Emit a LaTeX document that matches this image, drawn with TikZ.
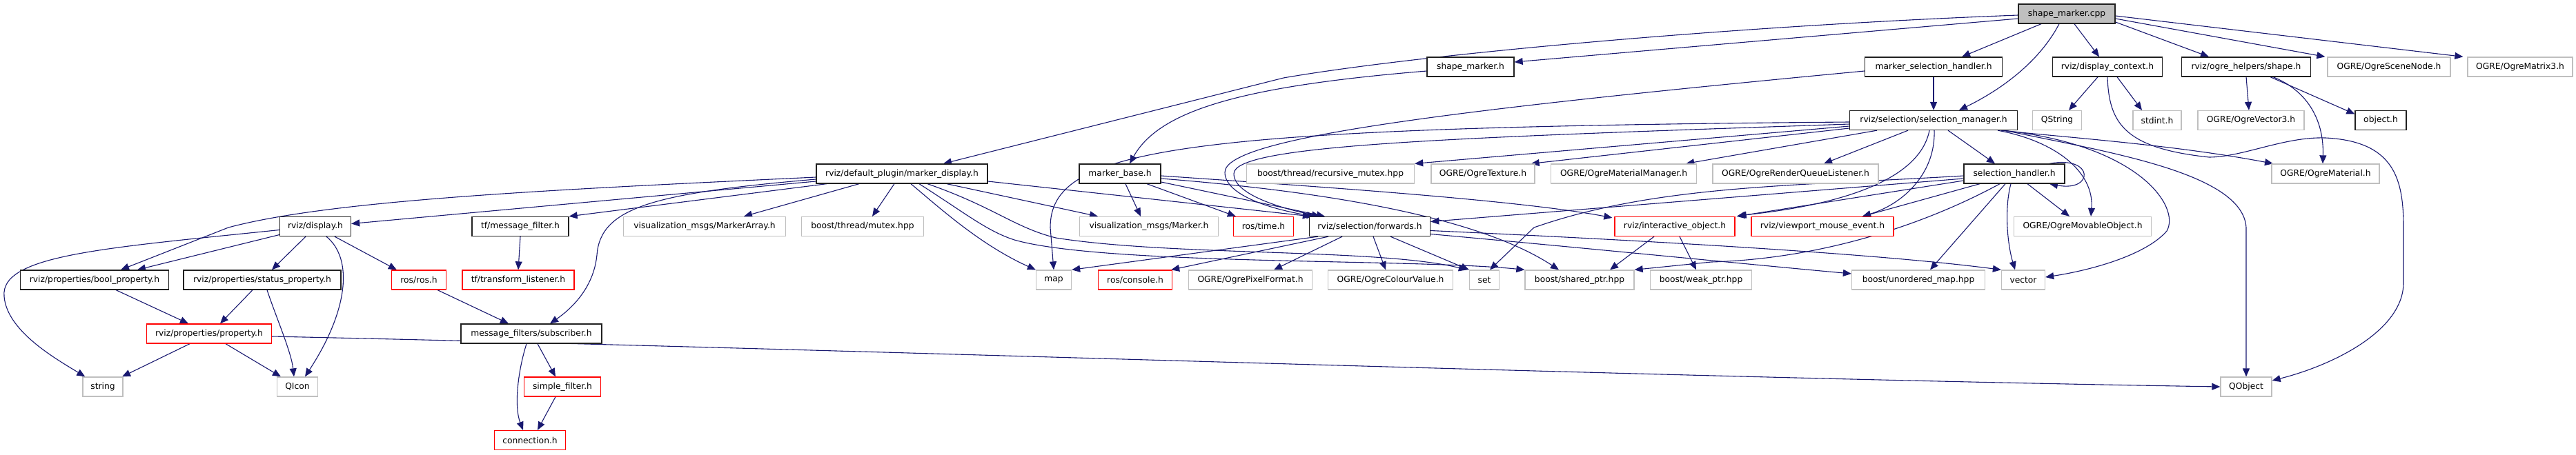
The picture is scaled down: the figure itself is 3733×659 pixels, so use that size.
\documentclass[tikz,border=0pt]{standalone}
\usepackage{fontspec}
\setmainfont{DejaVu Sans}
\usetikzlibrary{arrows.meta}
\definecolor{edgec}{HTML}{191970}
\definecolor{grayc}{HTML}{BFBFBF}
\definecolor{redc}{HTML}{FF0000}
\definecolor{boxc}{HTML}{202020}
\pgfdeclarelayer{bg}
\pgfsetlayers{bg,main}
\tikzset{
  bx/.style={draw=boxc, line width=1.3pt, minimum height=28pt, inner sep=0pt, fill=white, font=\fontsize{12.3}{14}\selectfont},
  gbx/.style={bx, draw=grayc},
  rbx/.style={bx, draw=redc},
  rootbx/.style={bx, fill=grayc},
  ed/.style={draw=edgec, line width=1.1pt, -{Triangle[length=12pt,width=10pt]}},
}
\begin{document}
\begin{tikzpicture}[x=1pt,y=-1pt]
\useasboundingbox (0,0) rectangle (3733,659);
% row 0
\node[rootbx, minimum width=140] (cpp) at (2995,20) {shape\_marker.cpp};
% row 1
\node[bx, minimum width=126] (smh) at (2131,97) {shape\_marker.h};
\node[bx, minimum width=199] (msh) at (2802,97) {marker\_selection\_handler.h};
\node[bx, minimum width=159] (dctx) at (3054,97) {rviz/display\_context.h};
\node[bx, minimum width=187] (shape) at (3255,97) {rviz/ogre\_helpers/shape.h};
\node[gbx, minimum width=178] (scn) at (3462,97) {OGRE/OgreSceneNode.h};
\node[gbx, minimum width=152] (mat3) at (3652,97) {OGRE/OgreMatrix3.h};
% row 2
\node[bx, minimum width=243] (selm) at (2802,174.5) {rviz/selection/selection\_manager.h};
\node[gbx, minimum width=71] (qstr) at (2981,174.5) {QString};
\node[gbx, minimum width=70] (stdint) at (3126,174.5) {stdint.h};
\node[gbx, minimum width=154] (vec3) at (3262,174.5) {OGRE/OgreVector3.h};
\node[bx, minimum width=74] (obj) at (3450,174.5) {object.h};
% row 3
\node[bx, minimum width=248] (mdisp) at (1307,252) {rviz/default\_plugin/marker\_display.h};
\node[bx, minimum width=118] (mbase) at (1623,252) {marker\_base.h};
\node[gbx, minimum width=243] (rmutex) at (1928,252) {boost/thread/recursive\_mutex.hpp};
\node[gbx, minimum width=150] (tex) at (2149,252) {OGRE/OgreTexture.h};
\node[gbx, minimum width=211] (matmgr) at (2353,252) {OGRE/OgreMaterialManager.h};
\node[gbx, minimum width=240] (rql) at (2602,252) {OGRE/OgreRenderQueueListener.h};
\node[bx, minimum width=146] (selh) at (2919,252) {selection\_handler.h};
\node[gbx, minimum width=156] (mat) at (3370,252) {OGRE/OgreMaterial.h};
% row 4
\node[bx, minimum width=103] (disp) at (457,328.5) {rviz/display.h};
\node[bx, minimum width=140] (tfmf) at (754,328.5) {tf/message\_filter.h};
\node[gbx, minimum width=235] (marr) at (1021,328.5) {visualization\_msgs/MarkerArray.h};
\node[gbx, minimum width=177] (mutex) at (1250,328.5) {boost/thread/mutex.hpp};
\node[gbx, minimum width=201] (marker) at (1665,328.5) {visualization\_msgs/Marker.h};
\node[rbx, minimum width=87] (rtime) at (1831,328.5) {ros/time.h};
\node[bx, minimum width=175] (fwd) at (1985,328.5) {rviz/selection/forwards.h};
\node[rbx, minimum width=174] (iobj) at (2427,328.5) {rviz/interactive\_object.h};
\node[rbx, minimum width=206] (vme) at (2641,328.5) {rviz/viewport\_mouse\_event.h};
\node[gbx, minimum width=199] (movo) at (3018,328.5) {OGRE/OgreMovableObject.h};
% row 5
\node[bx, minimum width=215] (boolp) at (137,406) {rviz/properties/bool\_property.h};
\node[bx, minimum width=228] (statp) at (380,406) {rviz/properties/status\_property.h};
\node[rbx, minimum width=79] (ros) at (607,406) {ros/ros.h};
\node[rbx, minimum width=162] (tftl) at (751,406) {tf/transform\_listener.h};
\node[gbx, minimum width=51] (map) at (1527,406) {map};
\node[rbx, minimum width=107] (cons) at (1645,406) {ros/console.h};
\node[gbx, minimum width=179] (pix) at (1812,406) {OGRE/OgrePixelFormat.h};
\node[gbx, minimum width=181] (col) at (2015,406) {OGRE/OgreColourValue.h};
\node[gbx, minimum width=43] (set) at (2151,406) {set};
\node[gbx, minimum width=158] (sptr) at (2289,406) {boost/shared\_ptr.hpp};
\node[gbx, minimum width=147] (wptr) at (2465,406) {boost/weak\_ptr.hpp};
\node[gbx, minimum width=193] (umap) at (2780,406) {boost/unordered\_map.hpp};
\node[gbx, minimum width=63] (vec) at (2932,406) {vector};
% row 6
\node[rbx, minimum width=181] (prop) at (303,484) {rviz/properties/property.h};
\node[bx, minimum width=204] (sub) at (770,484) {message\_filters/subscriber.h};
% row 7
\node[gbx, minimum width=58] (str) at (149,561) {string};
\node[gbx, minimum width=59] (qicon) at (431,561) {QIcon};
\node[rbx, minimum width=111] (sfilt) at (815,561) {simple\_filter.h};
\node[gbx, minimum width=74] (qobj) at (3255,561) {QObject};
% row 8
\node[rbx, minimum width=103] (conn) at (768,638.5) {connection.h};

\begin{pgfonlayer}{bg}
% shape_marker.cpp
\draw[ed] ([yshift=-7pt]cpp.west) -- ([yshift=7pt]smh.east);
\draw[ed] ([yshift=-2pt]cpp.west) .. controls (2500,38) and (2050,80) .. (1860,113) -- ([xshift=60pt]mdisp.north);
\draw[ed] ([xshift=-37pt]cpp.south) -- ([xshift=41pt]msh.north);
\draw[ed] ([xshift=-11pt]cpp.south) .. controls (2955,90) and (2900,130) .. ([xshift=37pt]selm.north);
\draw[ed] ([xshift=11pt]cpp.south) -- ([xshift=-12pt]dctx.north);
\draw[ed] ([yshift=-12pt]cpp.east) -- ([xshift=-54pt]shape.north);
\draw[ed] ([yshift=-7pt]cpp.east) -- ([xshift=-3pt]scn.north west);
\draw[ed] ([yshift=-3pt]cpp.east) -- ([xshift=-6pt]mat3.north west);
% shape_marker.h
\draw[ed] ([yshift=-6pt]smh.west) .. controls (1800,125) and (1680,160) .. ([xshift=14pt]mbase.north);
% marker_selection_handler.h
\draw[ed] (msh.south) -- (selm.north);
\draw[ed] ([yshift=-6pt]msh.west) .. controls (2100,160) and (1775,200) .. (1775,250) .. controls (1775,285) and (1850,305) .. ([xshift=9pt]fwd.north west);
% selection_manager.h
\draw[ed] ([yshift=-5.5pt]selm.west) .. controls (2100,200) and (1788,210) .. (1788,252) .. controls (1788,285) and (1870,305) .. ([xshift=16pt]fwd.north west);
\draw[ed] ([yshift=-2.5pt]selm.west) .. controls (1700,185) and (1522,215) .. (1522,330) -- (map.north);
\draw[ed] ([yshift=-8.5pt]selm.west) -- (rmutex.north east);
\draw[ed] ([yshift=-11.5pt]selm.west) -- ([xshift=-6pt]tex.north east);
\draw[ed] ([xshift=-82pt]selm.south) -- ([xshift=-16pt]matmgr.north east);
\draw[ed] ([xshift=-37pt]selm.south) -- ([xshift=41pt]rql.north);
\draw[ed] ([xshift=21pt]selm.south) -- ([xshift=-28pt]selh.north);
\draw[ed] ([xshift=-6pt]selm.south) .. controls (2780,270) and (2640,300) .. ([xshift=4pt,yshift=1pt]iobj.north east);
\draw[ed] ([xshift=1pt]selm.south) .. controls (2805,250) and (2760,295) .. ([xshift=58pt]vme.north);
\draw[ed] ([xshift=93pt]selm.south) .. controls (2980,205) and (3035,250) .. ([xshift=12pt]movo.north);
\draw[ed] ([xshift=98pt]selm.south) .. controls (3000,200) and (3150,210) .. ([xshift=-76pt]mat.north);
\draw[ed] ([xshift=103pt]selm.south) .. controls (3050,220) and (3250,250) .. (3255,330) -- (qobj.north);
\draw[ed] ([xshift=100pt]selm.south) .. controls (3100,210) and (3160,300) .. (3140,335) .. controls (3110,370) and (3030,392) .. ([yshift=4pt]vec.east);
% forwards.h
\draw[ed] ([xshift=-75pt]fwd.south) -- (map.north east);
\draw[ed] ([xshift=-60pt]fwd.south) -- ([xshift=-2pt]cons.north east);
\draw[ed] ([xshift=-40pt]fwd.south) -- ([xshift=34pt]pix.north);
\draw[ed] ([xshift=5pt]fwd.south) -- ([xshift=-7pt]col.north);
\draw[ed] ([xshift=30pt]fwd.south) -- (set.north west);
\draw[ed] ([yshift=-6pt]fwd.east) .. controls (2300,345) and (2700,365) .. (vec.north west);
\draw[ed] ([yshift=-11pt]fwd.east) .. controls (2300,360) and (2550,385) .. ([yshift=9pt]umap.west);
% marker_base.h
\draw[ed] ([xshift=8pt]mbase.south) -- ([xshift=-12pt]marker.north);
\draw[ed] ([xshift=39pt]mbase.south) -- ([xshift=4pt]rtime.north west);
\draw[ed] ([yshift=-12pt]mbase.east) -- ([xshift=23pt]fwd.north west);
\draw[ed] ([yshift=-3pt]mbase.east) .. controls (1900,270) and (2200,290) .. ([xshift=-3pt,yshift=-2pt]iobj.north west);
\draw[ed] ([yshift=-7pt]mbase.east) .. controls (1950,280) and (2150,320) .. ([xshift=-30pt]sptr.north);
% marker_display.h
\draw[ed] ([yshift=-5pt]mdisp.west) .. controls (800,275) and (480,290) .. (331,330) -- ([xshift=38pt]boolp.north);
\draw[ed] ([yshift=-11pt]mdisp.west) -- ([yshift=4pt]disp.east);
\draw[ed] ([xshift=-109pt]mdisp.south) -- (tfmf.north east);
\draw[ed] ([yshift=-8pt]mdisp.west) .. controls (950,280) and (870,300) .. (865,370) .. controls (860,420) and (825,450) .. ([xshift=27pt]sub.north);
\draw[ed] ([xshift=-62pt]mdisp.south) -- ([xshift=57pt]marr.north);
\draw[ed] ([xshift=-11pt]mdisp.south) -- ([xshift=14pt]mutex.north);
\draw[ed] ([xshift=13pt]mdisp.south) .. controls (1360,300) and (1420,355) .. (map.north west);
\draw[ed] ([xshift=25pt]mdisp.south) .. controls (1400,310) and (1430,335) .. (1470,348) .. controls (1600,385) and (2050,375) .. (sptr.north west);
\draw[ed] ([xshift=37pt]mdisp.south) .. controls (1440,300) and (1470,330) .. (1530,345) .. controls (1700,372) and (2000,360) .. ([xshift=-3pt]set.north west);
\draw[ed] ([xshift=65pt]mdisp.south) -- ([xshift=-74pt]marker.north);
\draw[ed] ([yshift=-11pt]mdisp.east) -- ([xshift=3pt]fwd.north west);
% selection_handler.h
\draw[ed] ([xshift=51pt]selh.north) .. controls (3035,225) and (3035,279) .. ([xshift=51pt]selh.south);
\draw[ed] ([xshift=19pt]selh.south) -- ([xshift=-19pt]movo.north);
\draw[ed] ([xshift=-13pt]selh.south) -- ([xshift=17pt]umap.north);
\draw[ed] ([xshift=-5pt]selh.south) .. controls (2905,300) and (2908,350) .. ([xshift=-12pt]vec.north);
\draw[ed] ([xshift=-21pt]selh.south) .. controls (2800,320) and (2650,375) .. (2480,380) -- (sptr.north east);
\draw[ed] ([yshift=-7pt]selh.west) -- ([yshift=7pt]fwd.east);
\draw[ed] ([yshift=-3pt]selh.west) .. controls (2600,270) and (2400,268) .. (2223,330) -- ([xshift=8pt]set.north);
\draw[ed] ([xshift=-50pt]selh.south) -- ([xshift=58pt]vme.north);
\draw[ed] ([yshift=-10pt]selh.west) -- ([xshift=2pt]iobj.north east);
% display.h
\draw[ed] ([yshift=-5pt]disp.west) .. controls (150,360) and (0,370) .. (6,430) .. controls (10,480) and (80,520) .. ([xshift=4pt]str.north west);
\draw[ed] ([yshift=-12pt]disp.west) -- ([xshift=62pt]boolp.north);
\draw[ed] ([xshift=-14pt]disp.south) -- ([xshift=14pt]statp.north);
\draw[ed] ([xshift=16pt]disp.south) .. controls (512,375) and (505,450) .. ([xshift=11pt]qicon.north);
\draw[ed] ([xshift=28pt]disp.south) -- ([xshift=8pt]ros.north west);
% properties
\draw[ed] ([xshift=31pt]boolp.south) -- ([xshift=-30pt]prop.north);
\draw[ed] ([xshift=-14pt]statp.south) -- ([xshift=16pt]prop.north);
\draw[ed] ([xshift=7pt]statp.south) .. controls (400,460) and (422,510) .. ([xshift=-5pt]qicon.north);
\draw[ed] ([xshift=-28pt]prop.south) -- ([xshift=28pt]str.north);
\draw[ed] ([xshift=24pt]prop.south) -- ([xshift=-24pt]qicon.north);
\draw[ed] ([yshift=-4pt]prop.east) .. controls (1200,505) and (2400,548) .. (qobj.west);
% ros / tf / message filters
\draw[ed] ([xshift=27pt]ros.south) -- ([xshift=-33pt]sub.north);
\draw[ed] (tfmf.south) -- (tftl.north);
\draw[ed] ([xshift=9pt]sub.south) -- ([xshift=-10pt]sfilt.north);
\draw[ed] ([xshift=-7pt]sub.south) .. controls (750,540) and (745,590) .. ([xshift=-10pt]conn.north);
\draw[ed] ([xshift=-10pt]sfilt.south) -- ([xshift=11pt]conn.north);
% interactive_object.h
\draw[ed] ([xshift=-30pt]iobj.south) -- ([xshift=44pt]sptr.north);
\draw[ed] ([xshift=7pt]iobj.south) -- ([xshift=-7pt]wptr.north);
% shape.h / display_context.h
\draw[ed] (shape.south) -- ([xshift=-3pt]vec3.north);
\draw[ed] ([xshift=35pt]shape.south) -- ([yshift=9pt]obj.west);
\draw[ed] ([xshift=39pt]shape.south) .. controls (3340,130) and (3368,170) .. ([xshift=-4pt]mat.north);
\draw[ed] ([xshift=-14pt]dctx.south) -- ([xshift=17pt]qstr.north);
\draw[ed] ([xshift=14pt]dctx.south) -- ([xshift=-22pt]stdint.north);
\draw[ed] (dctx.south) .. controls (3056,180) and (3080,215) .. (3201,228) .. controls (3250,228) and (3310,198) .. (3370,200) .. controls (3470,205) and (3483,260) .. (3483,330) -- (3483,410) .. controls (3483,480) and (3380,530) .. ([yshift=9pt]qobj.east);
\end{pgfonlayer}
\end{tikzpicture}
\end{document}
